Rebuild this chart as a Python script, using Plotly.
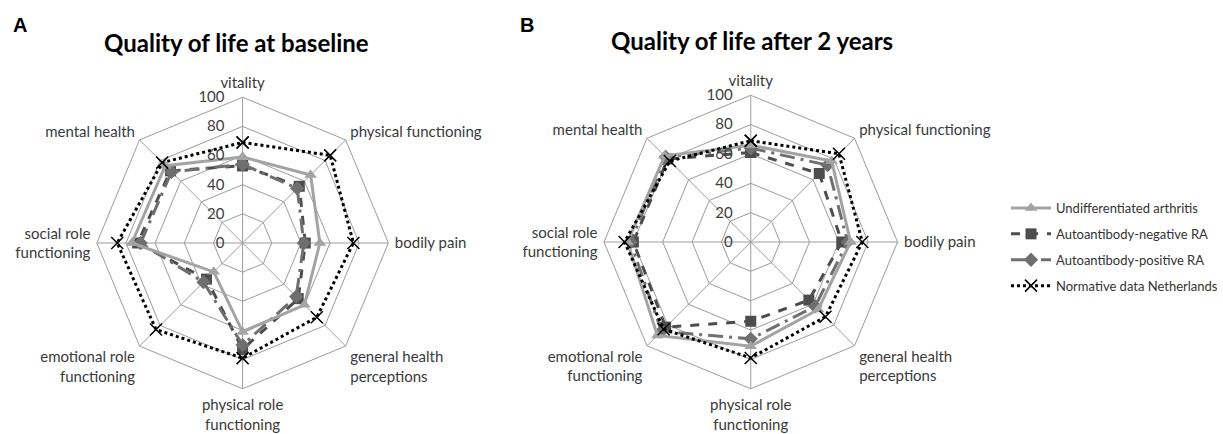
import plotly.graph_objects as go

categories = ["vitality", "physical functioning", "bodily pain",
              "general health<br>perceptions", "physical role<br>functioning",
              "emotional role<br>functioning", "social role<br>functioning",
              "mental health"]

series_names = ["Undifferentiated arthritis", "Autoantibody-negative RA",
                "Autoantibody-positive RA", "Normative data Netherlands"]

# Baseline values (panel A)
base_ua = [59, 66, 53, 60, 61, 28, 76, 75]
base_neg = [53, 55, 43, 54, 73, 35, 72, 70]
base_pos = [54, 53, 42, 52, 70, 38, 70, 69]
base_norm = [69, 85, 76, 72, 79, 84, 86, 78]

# After 2 years values (panel B)
y2_ua = [66, 78, 68, 65, 71, 90, 84, 83]
y2_neg = [61, 66, 62, 56, 54, 82, 80, 80]
y2_pos = [64, 74, 66, 62, 66, 86, 82, 82]
y2_norm = [69, 85, 76, 72, 79, 84, 86, 78]

radial_ticks = [0, 20, 40, 60, 80, 100]

styles = [
    dict(color="#a3a3a3", dash="solid", symbol="triangle-up", size=11),
    dict(color="#4d4d4d", dash="dash", symbol="square", size=11),
    dict(color="#6f6f6f", dash="longdashdot", symbol="diamond", size=11),
    dict(color="#000000", dash="dot", symbol="x-thin", size=12),
]

FONT = "Lato"
PAD = "&nbsp;" * 4

fig = go.Figure()

def add_panel(data, polar, showlegend):
    order = [1, 2, 0, 3]
    for i in order:
        vals = data[i]
        st = styles[i]
        r = list(vals) + [vals[0]]
        th = categories + [categories[0]]
        marker = dict(symbol=st["symbol"], size=st["size"], color=st["color"])
        if st["symbol"] == "x-thin":
            marker["line"] = dict(color=st["color"], width=1.5)
        fig.add_trace(go.Scatterpolar(
            r=r, theta=th, mode="lines+markers", name=series_names[i],
            line=dict(color=st["color"], dash=st["dash"], width=3),
            marker=marker, subplot=polar, showlegend=showlegend,
            legendrank=i + 1, legendgroup=series_names[i],
        ))

add_panel([base_ua, base_neg, base_pos, base_norm], "polar", True)
add_panel([y2_ua, y2_neg, y2_pos, y2_norm], "polar2", False)

W, H = 1223, 434

def polar_layout(cx, cy, rad):
    return dict(
        domain=dict(x=[(cx - rad) / W, (cx + rad) / W],
                    y=[(H - cy - rad) / H, (H - cy + rad) / H]),
        gridshape="linear",
        bgcolor="white",
        radialaxis=dict(range=[0, 100], tickvals=radial_ticks,
                        ticktext=[str(v) + PAD for v in radial_ticks],
                        angle=90, side="counterclockwise", tickangle=90,
                        showline=False, ticks="", gridcolor="#9c9c9c",
                        gridwidth=1,
                        tickfont=dict(family=FONT, size=15, color="#404040")),
        angularaxis=dict(rotation=90, direction="clockwise",
                         categoryorder="array", categoryarray=categories,
                         showline=True, linecolor="#9c9c9c", linewidth=1,
                         gridcolor="#9c9c9c", gridwidth=1,
                         ticks="outside", ticklen=3, tickcolor="rgba(0,0,0,0)",
                         tickfont=dict(family=FONT, size=15, color="#3a3a3a")),
    )

fig.update_layout(
    width=W, height=H,
    paper_bgcolor="white", plot_bgcolor="white",
    margin=dict(l=0, r=0, t=0, b=0),
    polar=polar_layout(243, 243, 146),
    polar2=polar_layout(752, 242, 147),
    showlegend=True,
    legend=dict(x=1008 / W, y=(H - 193) / H, xanchor="left", yanchor="top",
                font=dict(family=FONT, size=13, color="#333333"),
                tracegroupgap=6, itemwidth=40, bgcolor="rgba(0,0,0,0)"),
    annotations=[
        dict(text="<b>A</b>", x=11 / W, y=(H - 25) / H, xref="paper", yref="paper",
             xanchor="left", yanchor="middle", showarrow=False,
             font=dict(family="Liberation Sans", size=20, color="black")),
        dict(text="<b>B</b>", x=519 / W, y=(H - 25) / H, xref="paper", yref="paper",
             xanchor="left", yanchor="middle", showarrow=False,
             font=dict(family="Liberation Sans", size=20, color="black")),
        dict(text="<b>Quality of life at baseline</b>", x=237 / W, y=(H - 42) / H,
             xref="paper", yref="paper", xanchor="center", yanchor="middle",
             showarrow=False, font=dict(family=FONT, size=24, color="black")),
        dict(text="<b>Quality of life after 2 years</b>", x=753 / W, y=(H - 41) / H,
             xref="paper", yref="paper", xanchor="center", yanchor="middle",
             showarrow=False, font=dict(family=FONT, size=24, color="black")),
    ],
)

fig.write_html("out.html", config={"displayModeBar": False},
               post_script="document.body.style.margin='0px';")
